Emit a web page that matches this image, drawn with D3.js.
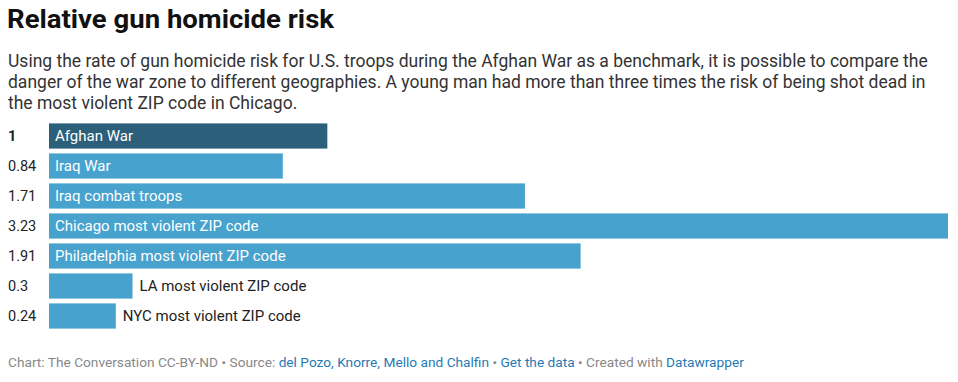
<!DOCTYPE html>
<html>
<head>
<meta charset="utf-8">
<script src="https://cdn.jsdelivr.net/npm/d3@7"></script>
<style>
  body { margin: 0; background: #fff; font-family: Roboto, sans-serif; }
</style>
</head>
<body>
<div id="chart"></div>
<script>
'use strict';

var categories = ['Afghan War', 'Iraq War', 'Iraq combat troops', 'Chicago most violent ZIP code',
                  'Philadelphia most violent ZIP code', 'LA most violent ZIP code', 'NYC most violent ZIP code'];
var values = [1, 0.84, 1.71, 3.23, 1.91, 0.3, 0.24];
var valueLabels = ['1', '0.84', '1.71', '3.23', '1.91', '0.3', '0.24'];

var title = 'Relative gun homicide risk';
var subtitle = [
  'Using the rate of gun homicide risk for U.S. troops during the Afghan War as a benchmark, it is possible to compare the',
  'danger of the war zone to different geographies. A young man had more than three times the risk of being shot dead in',
  'the most violent ZIP code in Chicago.'
];

var width = 958, height = 382;

var svg = d3.select('#chart').append('svg')
  .attr('width', width)
  .attr('height', height);

svg.append('text')
  .attr('x', 7).attr('y', 28)
  .style('font-size', '25px').style('font-weight', 'bold').style('fill', '#111')
  .attr('textLength', 327).attr('lengthAdjust', 'spacingAndGlyphs')
  .text(title);

svg.selectAll('text.sub')
  .data(subtitle)
  .enter().append('text')
  .attr('class', 'sub')
  .attr('x', 8)
  .attr('y', function(d, i){ return 67 + i * 21; })
  .style('font-size', '17.5px').style('fill', '#333')
  .text(function(d){ return d; });

var x = d3.scaleLinear()
  .domain([0, d3.max(values)])
  .range([49, 948]);

var y = d3.scaleBand()
  .domain(categories)
  .range([121, 331])
  .paddingInner(0.16)
  .paddingOuter(0.08);

var rows = categories.map(function(c, i){
  return { name: c, value: values[i], label: valueLabels[i], i: i };
});

var g = svg.selectAll('g.row')
  .data(rows)
  .enter().append('g')
  .attr('class', 'row');

g.append('rect')
  .attr('x', x(0))
  .attr('y', function(d){ return y(d.name); })
  .attr('width', function(d){ return x(d.value) - x(0); })
  .attr('height', y.bandwidth())
  .style('fill', function(d){ return d.i == 0 ? '#2c5f79' : '#48a2ce'; });

g.append('text')
  .attr('x', 8)
  .attr('y', function(d){ return y(d.name) + y.bandwidth() / 2; })
  .attr('dy', '0.35em')
  .style('font-size', '14.5px')
  .style('font-weight', function(d){ return d.i == 0 ? 'bold' : 'normal'; })
  .style('fill', '#222')
  .text(function(d){ return d.label; });

// labels go inside long bars, outside short ones
var inside = function(d){ return x(d.value) - x(0) > 150; };

g.append('text')
  .attr('x', function(d){ return inside(d) ? x(0) + 6 : x(d.value) + 7; })
  .attr('y', function(d){ return y(d.name) + y.bandwidth() / 2; })
  .attr('dy', '0.35em')
  .style('font-size', '15px')
  .style('fill', function(d){ return inside(d) ? '#fff' : '#222'; })
  .text(function(d){ return d.name; });

var foot = svg.append('text')
  .attr('x', 8).attr('y', 367)
  .style('font-size', '13.7px').style('fill', '#888');

var footParts = [
  ['Chart: The Conversation CC-BY-ND • Source: ', false],
  ['del Pozo, Knorre, Mello and Chalfin', true],
  [' • ', false],
  ['Get the data', true],
  [' • Created with ', false],
  ['Datawrapper', true]
];

foot.selectAll('tspan')
  .data(footParts)
  .enter().append('tspan')
  .style('fill', function(d){ return d[1] ? '#1f7ab5' : '#888'; })
  .text(function(d){ return d[0]; });
</script>
</body>
</html>
